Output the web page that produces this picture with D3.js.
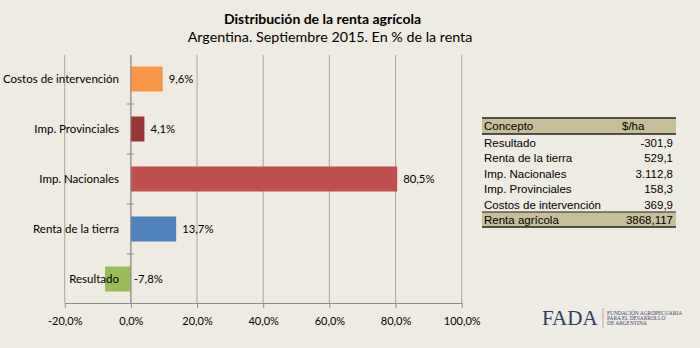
<!DOCTYPE html>
<html><head><meta charset="utf-8">
<script src="https://cdn.jsdelivr.net/npm/d3@7"></script>
<style>
body{margin:0;background:#EEEBE2;}
svg{display:block;}
</style></head>
<body>
<script>
const categories = ["Costos de intervención","Imp. Provinciales","Imp. Nacionales","Renta de la tierra","Resultado"];
const values = [9.6, 4.1, 80.5, 13.7, -7.8];
const valueLabels = ["9,6%","4,1%","80,5%","13,7%","-7,8%"];
const colors = ["#F79646","#953735","#C0504D","#4F81BD","#9BBB59"];
const xTicks = [-20,0,20,40,60,80,100];
const xTickLabels = ["-20,0%","0,0%","20,0%","40,0%","60,0%","80,0%","100,0%"];
const tableConcepts = ["Resultado","Renta de la tierra","Imp. Nacionales","Imp. Provinciales","Costos de intervención"];
const tableValues = ["-301,9","529,1","3.112,8","158,3","369,9"];
const totalLabel = "Renta agrícola";
const totalValue = "3868,117";

const W=700,H=348;
const svg=d3.select("body").append("svg").attr("width",W).attr("height",H);
svg.append("rect").attr("width",W).attr("height",H).attr("fill","#EEEBE2");

const font="Lato, 'Open Sans', sans-serif";
svg.append("text").attr("x",322.5).attr("y",24).attr("text-anchor","middle")
  .attr("font-family",font).attr("font-weight","bold").attr("font-size",14).attr("fill","#000")
  .text("Distribución de la renta agrícola");
svg.append("text").attr("x",330).attr("y",41.5).attr("text-anchor","middle")
  .attr("font-family",font).attr("font-size",14.3).attr("fill","#000")
  .text("Argentina. Septiembre 2015. En % de la renta");

const x=d3.scaleLinear().domain([-20,100]).range([64.7,461.7]);
const y=d3.scaleBand().domain(categories).range([54,304]).paddingInner(0.5).paddingOuter(0.25);

// gridlines
svg.append("g").selectAll("line").data(xTicks).join("line")
  .attr("x1",d=>x(d)).attr("x2",d=>x(d)).attr("y1",55).attr("y2",303)
  .attr("stroke","#A8A8A4").attr("stroke-width",1);

// bars
svg.append("g").selectAll("rect").data(values).join("rect")
  .attr("x",d=>x(Math.min(0,d))).attr("width",d=>Math.abs(x(d)-x(0)))
  .attr("y",(d,i)=>y(categories[i])).attr("height",y.bandwidth())
  .attr("fill",(d,i)=>colors[i]);

// x axis
const xAxis=d3.axisBottom(x).tickValues(xTicks).tickFormat((d,i)=>xTickLabels[i]).tickSize(5).tickSizeOuter(0);
const gx=svg.append("g").attr("transform","translate(0,303)").call(xAxis);
gx.select(".domain").attr("stroke","#8C8C8C");
gx.selectAll(".tick line").attr("stroke","#8C8C8C");
gx.selectAll(".tick text").attr("font-family",font).attr("font-size",11).attr("fill","#000").attr("dy","1.25em");

// y axis at zero
svg.append("line").attr("x1",x(0)).attr("x2",x(0)).attr("y1",55).attr("y2",303).attr("stroke","#8C8C8C");
svg.append("g").selectAll("line").data(y.domain().slice(1)).join("line")
  .attr("x1",x(0)-4).attr("x2",x(0)+3)
  .attr("y1",d=>y(d)-y.step()*0.25).attr("y2",d=>y(d)-y.step()*0.25)
  .attr("stroke","#8C8C8C");

// category labels
svg.append("g").selectAll("text").data(categories).join("text")
  .attr("x",119).attr("y",d=>y(d)+y.bandwidth()/2).attr("dy","0.35em")
  .attr("text-anchor","end").attr("font-family",font).attr("font-size",11.5).attr("fill","#000")
  .text(d=>d);

// value labels
svg.append("g").selectAll("text").data(values).join("text")
  .attr("x",d=>d>=0?x(d)+6:x(0)+3).attr("y",(d,i)=>y(categories[i])+y.bandwidth()/2).attr("dy","0.35em")
  .attr("font-family",font).attr("font-size",11.3).attr("fill","#000")
  .text((d,i)=>valueLabels[i]);

// table
const tx0=482,tx1=676,tf="'Liberation Sans', Arial, sans-serif",tfs=11.5;
const tg=svg.append("g");
tg.append("rect").attr("x",tx0).attr("y",118).attr("width",tx1-tx0).attr("height",16).attr("fill","#C6BF98");
tg.append("rect").attr("x",tx0).attr("y",212).attr("width",tx1-tx0).attr("height",15).attr("fill","#C6BF98");
[[118,1.5],[134,1.5],[212,1.2],[227,1.5]].forEach(([yy,sw])=>{
  tg.append("line").attr("x1",tx0).attr("x2",tx1).attr("y1",yy).attr("y2",yy).attr("stroke","#222").attr("stroke-width",sw);
});
tg.append("text").attr("x",484).attr("y",130).attr("font-family",tf).attr("font-size",tfs).text("Concepto");
tg.append("text").attr("x",622).attr("y",130).attr("font-family",tf).attr("font-size",tfs).text("$/ha");
const rowY=d3.scaleLinear().domain([0,4]).range([146.5,208.5]);
tg.selectAll("text.c").data(tableConcepts).join("text").attr("class","c")
  .attr("x",484).attr("y",(d,i)=>rowY(i)).attr("font-family",tf).attr("font-size",tfs).text(d=>d);
tg.selectAll("text.v").data(tableValues).join("text").attr("class","v")
  .attr("x",673).attr("y",(d,i)=>rowY(i)).attr("text-anchor","end").attr("font-family",tf).attr("font-size",tfs).text(d=>d);
tg.append("text").attr("x",484).attr("y",224).attr("font-family",tf).attr("font-size",tfs).text(totalLabel);
tg.append("text").attr("x",673).attr("y",224).attr("text-anchor","end").attr("font-family",tf).attr("font-size",tfs).text(totalValue);

// logo
const lg=svg.append("g");
lg.append("text").attr("x",542).attr("y",325).attr("font-family","'Liberation Serif', 'DejaVu Serif', serif")
  .attr("font-size",21).attr("fill","#2E3A66").text("FADA");
lg.append("line").attr("x1",603).attr("x2",603).attr("y1",308).attr("y2",328).attr("stroke","#9A9AA8").attr("stroke-width",0.8);
["FUNDACIÓN AGROPECUARIA","PARA EL DESARROLLO","DE ARGENTINA"].forEach((t,i)=>{
  lg.append("text").attr("x",607).attr("y",315+i*5).attr("font-family","'Liberation Serif', serif")
    .attr("font-size",5.4).attr("fill","#3A4470").text(t);
});
</script>
</body></html>
